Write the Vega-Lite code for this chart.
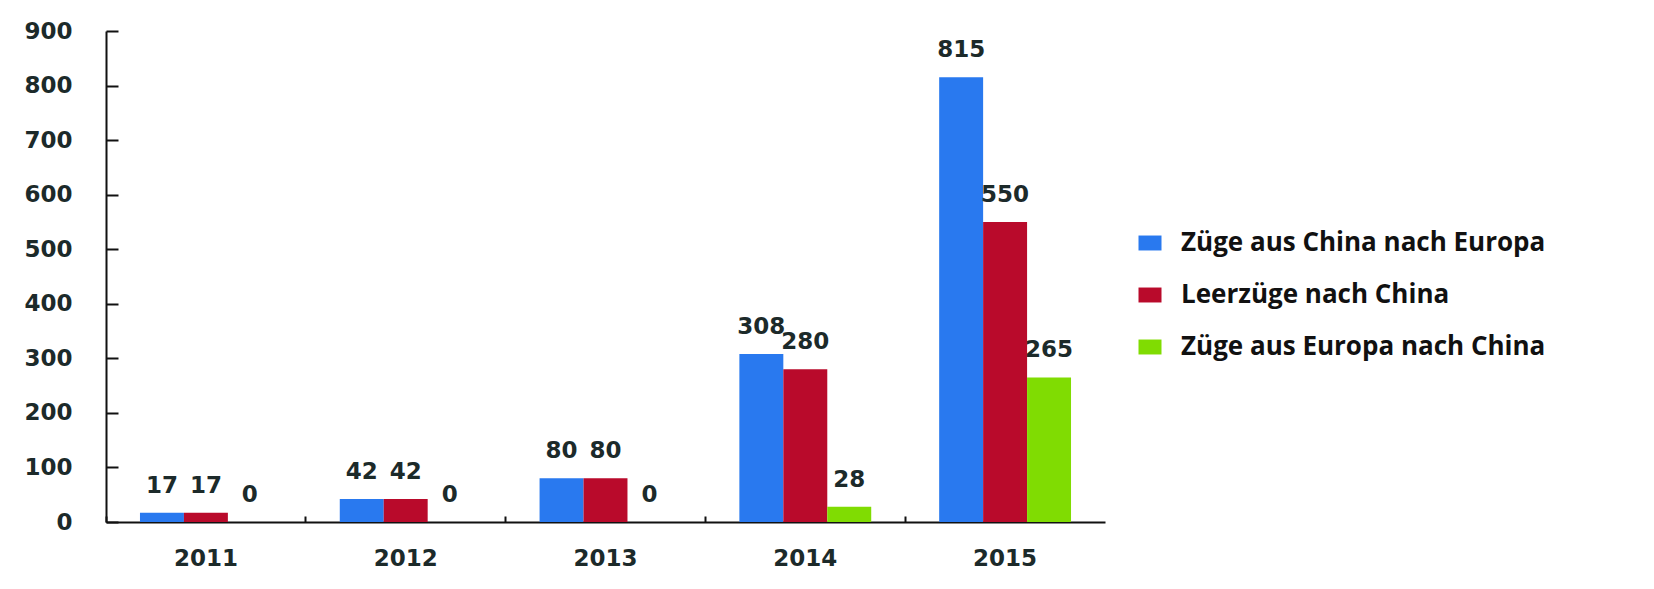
{
  "$schema": "https://vega.github.io/schema/vega-lite/v6.json",
  "width": 999,
  "height": 491,
  "autosize": {"type": "none"},
  "padding": {"left": 106, "top": 31, "right": 549, "bottom": 67},
  "background": "white",
  "config": {
    "view": {"stroke": null},
    "axis": {
      "domainColor": "#111",
      "domainWidth": 2,
      "tickColor": "#111",
      "tickWidth": 2,
      "labelFont": "DejaVu Sans",
      "labelFontWeight": "bold",
      "labelFontSize": 23,
      "labelColor": "#1c2a2a",
      "grid": false,
      "title": null
    }
  },
  "data": {
    "values": [
      {"year": "2011", "series": "Züge aus China nach Europa", "value": 17},
      {"year": "2011", "series": "Leerzüge nach China", "value": 17},
      {"year": "2011", "series": "Züge aus Europa nach China", "value": 0},
      {"year": "2012", "series": "Züge aus China nach Europa", "value": 42},
      {"year": "2012", "series": "Leerzüge nach China", "value": 42},
      {"year": "2012", "series": "Züge aus Europa nach China", "value": 0},
      {"year": "2013", "series": "Züge aus China nach Europa", "value": 80},
      {"year": "2013", "series": "Leerzüge nach China", "value": 80},
      {"year": "2013", "series": "Züge aus Europa nach China", "value": 0},
      {"year": "2014", "series": "Züge aus China nach Europa", "value": 308},
      {"year": "2014", "series": "Leerzüge nach China", "value": 280},
      {"year": "2014", "series": "Züge aus Europa nach China", "value": 28},
      {"year": "2015", "series": "Züge aus China nach Europa", "value": 815},
      {"year": "2015", "series": "Leerzüge nach China", "value": 550},
      {"year": "2015", "series": "Züge aus Europa nach China", "value": 265}
    ]
  },
  "encoding": {
    "x": {
      "field": "year",
      "type": "ordinal",
      "scale": {"paddingInner": 0, "paddingOuter": 0},
      "axis": {
        "labelAngle": 0,
        "tickSize": -6,
        "bandPosition": 0,
        "labelPadding": 31
      }
    },
    "xOffset": {
      "field": "series",
      "type": "nominal",
      "sort": ["Züge aus China nach Europa", "Leerzüge nach China", "Züge aus Europa nach China"],
      "scale": {"paddingInner": 0, "paddingOuter": 0.773}
    },
    "y": {
      "field": "value",
      "type": "quantitative",
      "scale": {"domain": [0, 900], "nice": false},
      "axis": {
        "values": [0, 100, 200, 300, 400, 500, 600, 700, 800, 900],
        "tickSize": -12,
        "labelPadding": 46
      }
    }
  },
  "layer": [
    {
      "mark": {"type": "bar"},
      "encoding": {
        "color": {
          "field": "series",
          "type": "nominal",
          "sort": ["Züge aus China nach Europa", "Leerzüge nach China", "Züge aus Europa nach China"],
          "scale": {
            "domain": ["Züge aus China nach Europa", "Leerzüge nach China", "Züge aus Europa nach China"],
            "range": ["#2979ef", "#b90a2b", "#80dc02"]
          },
          "legend": {
            "title": null,
            "orient": "none",
            "legendX": 1031,
            "legendY": 199,
            "padding": 0,
            "symbolType": "M-1,-0.65H1V0.65H-1Z",
            "symbolSize": 529,
            "symbolStrokeWidth": 0,
            "labelFont": "Open Sans",
            "labelFontWeight": "bold",
            "labelFontSize": 26,
            "labelColor": "#111",
            "labelOffset": 18,
            "rowPadding": 26,
            "labelLimit": 600
          }
        }
      }
    },
    {
      "mark": {
        "type": "text",
        "baseline": "alphabetic",
        "dy": -20,
        "font": "DejaVu Sans",
        "fontWeight": "bold",
        "fontSize": 23,
        "color": "#1c2a2a"
      },
      "encoding": {
        "text": {"field": "value", "type": "quantitative"}
      }
    }
  ]
}
